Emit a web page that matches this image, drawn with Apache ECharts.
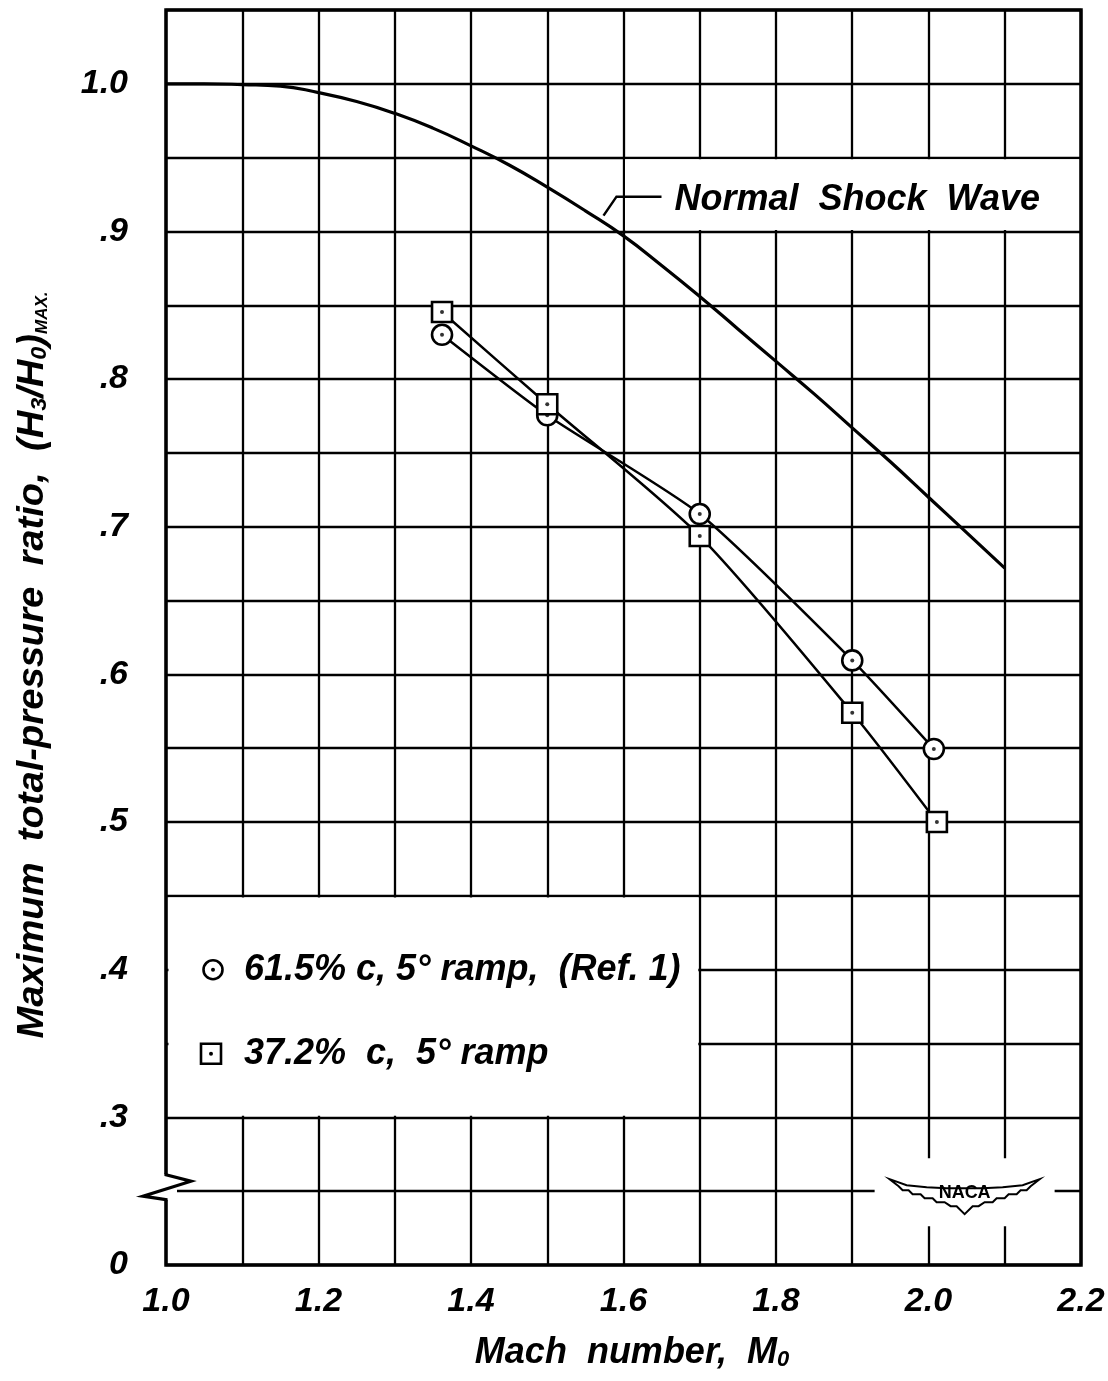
<!DOCTYPE html>
<html><head><meta charset="utf-8">
<script src="https://cdn.jsdelivr.net/npm/echarts/dist/echarts.min.js"></script>
<style>html,body{margin:0;padding:0;background:#fff}#c{width:1108px;height:1381px}</style>
</head><body><div id="c"></div>
<script>
// ---- data ----
const shockMach  = [1.0, 1.05, 1.1, 1.15, 1.2, 1.25, 1.3, 1.35, 1.4, 1.45, 1.5, 1.55, 1.6, 1.65, 1.7, 1.75, 1.8, 1.85, 1.9, 1.95, 2.0, 2.05, 2.1];
const shockRatio = [1.000, 1.000, 0.9995, 0.9985, 0.994, 0.988, 0.980, 0.970, 0.958, 0.945, 0.930, 0.914, 0.897, 0.877, 0.856, 0.834, 0.812, 0.790, 0.767, 0.744, 0.720, 0.696, 0.672];
const mach615  = [1.362, 1.500, 1.700, 1.900, 2.007];
const ratio615 = [0.830, 0.7755, 0.7086, 0.6095, 0.5495];
const mach372  = [1.362, 1.500, 1.700, 1.900, 2.011];
const ratio372 = [0.8455, 0.783, 0.6937, 0.574, 0.500];
const legend615 = '61.5% c, 5° ramp,  (Ref. 1)';
const legend372 = '37.2%  c,  5° ramp';
const shockLabel = 'Normal  Shock  Wave';

const FONT = '"Liberation Sans", Arial, sans-serif';
const pairs = (xs, ys) => xs.map((x, i) => [x, ys[i]]);
const txt = { fontFamily: FONT, fontStyle: 'italic', fontWeight: 'bold', color: '#000' };

const chart = echarts.init(document.getElementById('c'), null, { renderer: 'canvas' });
const option = {
  animation: false,
  backgroundColor: '#fff',
  grid: { left: 166, right: 27, top: 10, bottom: 116, show: true, borderColor: '#000', borderWidth: 3.5,
          containLabel: false, outerBoundsMode: 'none' },
  xAxis: {
    type: 'value', min: 1.0, max: 2.2, interval: 0.1,
    axisLine: { show: false }, axisTick: { show: false },
    splitLine: { show: true, lineStyle: { color: '#000', width: 2.3 } },
    axisLabel: Object.assign({ fontSize: 34, margin: 20, showMinLabel: true, showMaxLabel: true,
      formatter: v => { const t = Math.round(v * 10); return t % 2 === 0 ? (t / 10).toFixed(1) : ''; } }, txt)
  },
  yAxis: {
    type: 'value', min: 0.2, max: 1.05, interval: 0.05,
    axisLine: { show: false }, axisTick: { show: false },
    splitLine: { show: true, lineStyle: { color: '#000', width: 2.3 } },
    axisLabel: Object.assign({ fontSize: 34, margin: 38,
      formatter: v => { const t = Math.round(v * 100); if (t % 10 !== 0) return ''; if (t === 20) return '0'; if (t === 100) return '1.0'; return '.' + (t / 10); } }, txt)
  },
  series: [
    { type: 'line', name: 'Normal Shock Wave', data: pairs(shockMach, shockRatio), smooth: 0.5, showSymbol: false,
      lineStyle: { color: '#000', width: 3.2 }, z: 2, silent: true },
    { type: 'line', name: '61.5% c', data: pairs(mach615, ratio615), smooth: 0.2, symbol: 'circle', symbolSize: 20,
      itemStyle: { color: '#fff', borderColor: '#000', borderWidth: 2.6 }, lineStyle: { color: '#000', width: 2.5 }, z: 3, silent: true },
    { type: 'line', name: '37.2% c', data: pairs(mach372, ratio372), smooth: 0.25, symbol: 'rect', symbolSize: 20,
      itemStyle: { color: '#fff', borderColor: '#000', borderWidth: 2.6 }, lineStyle: { color: '#000', width: 2.5 }, z: 3, silent: true },
    { type: 'scatter', data: pairs(mach615, ratio615), symbolSize: 4, itemStyle: { color: '#000' }, z: 5, silent: true },
    { type: 'scatter', data: pairs(mach372, ratio372), symbolSize: 4, itemStyle: { color: '#000' }, z: 5, silent: true }
  ]
};
chart.setOption(option);

const P = (x, y) => chart.convertToPixel({ gridIndex: 0 }, [x, y]);
const g = [];
const white = { fill: '#fff', stroke: null };
// legend box
const a = P(1.0, 0.45), b = P(1.7, 0.3);
g.push({ type: 'rect', z: 1, shape: { x: a[0] + 2.5, y: a[1] + 1.5, width: b[0] - a[0] - 4, height: b[1] - a[1] - 3 }, style: white });
const L1 = P(1.0, 0.4);
g.push({ type: 'circle', z: 6, shape: { cx: L1[0] + 47, cy: L1[1], r: 9.5 }, style: { fill: '#fff', stroke: '#000', lineWidth: 2.6 } });
g.push({ type: 'circle', z: 7, shape: { cx: L1[0] + 47, cy: L1[1], r: 2 }, style: { fill: '#000' } });
g.push({ type: 'rect', z: 6, shape: { x: L1[0] + 45 - 10, y: L1[1] + 84 - 10, width: 20, height: 20 }, style: { fill: '#fff', stroke: '#000', lineWidth: 2.6 } });
g.push({ type: 'circle', z: 7, shape: { cx: L1[0] + 45, cy: L1[1] + 84, r: 2 }, style: { fill: '#000' } });
const ts = (text, x, y, size, align, sx) => ({ type: 'text', z: 8, x: x, y: y, scaleX: sx || 1,
  style: { text: text, fontFamily: FONT, fontStyle: 'italic', fontWeight: 'bold', fontSize: size, fill: '#000',
           textAlign: align || 'left', textVerticalAlign: 'middle', verticalAlign: 'middle' } });
g.push(ts(legend615, L1[0] + 78, L1[1], 36));
g.push(ts(legend372, L1[0] + 78, L1[1] + 84, 36));
// normal shock label box
const c = P(1.6, 0.95), d = P(2.2, 0.9);
g.push({ type: 'rect', z: 1, shape: { x: c[0] + 1.5, y: c[1] + 1.5, width: d[0] - c[0] - 3.5, height: d[1] - c[1] - 3 }, style: white });
g.push(ts(shockLabel, c[0] + 51, (c[1] + d[1]) / 2 + 6, 36));
g.push({ type: 'polyline', z: 6, shape: { points: [[c[0] - 20, c[1] + 58], [c[0] - 7, c[1] + 39], [c[0] + 38, c[1] + 39]] },
         style: { stroke: '#000', lineWidth: 2.5, fill: null } });
// axis break
const e = P(1.0, 0.25);
g.push({ type: 'rect', z: 4, shape: { x: e[0] - 4, y: e[1] - 17, width: 15, height: 26 }, style: white });
g.push({ type: 'polyline', z: 6, shape: { points: [[e[0], e[1] - 18], [e[0], e[1] - 16.5], [e[0] + 25, e[1] - 10], [e[0] - 23, e[1] + 5], [e[0], e[1] + 8.5], [e[0], e[1] + 10]] },
         style: { stroke: '#000', lineWidth: 3.2, fill: null, lineJoin: 'miter' } });
// NACA logo
const n = P(2.05, 0.25);
const nx = n[0] - 2, ny = n[1] + 3;
g.push({ type: 'rect', z: 1, shape: { x: nx - 90, y: ny - 36, width: 180, height: 68 }, style: white });
const wing = [[-75,-15],[-58,-9],[-38,-7],[-18,-6],[18,-6],[38,-7],[58,-9],[75,-15],
  [66,-8],[62,-4],[56,-4],[52,0],[44,0],[40,4],[32,4],[28,8],[20,8],[14,12],[8,12],[0,20],
  [-8,12],[-14,12],[-20,8],[-28,8],[-32,4],[-40,4],[-44,0],[-52,0],[-56,-4],[-62,-4],[-66,-8]]
  .map(p => [nx + p[0], ny + p[1]]);
g.push({ type: 'polygon', z: 6, shape: { points: wing }, style: { fill: '#fff', stroke: '#000', lineWidth: 2 } });
g.push({ type: 'text', z: 7, x: nx, y: ny - 1, style: { text: 'NACA', fontFamily: FONT, fontWeight: 'bold', fontSize: 18, fill: '#000',
         textAlign: 'center', textVerticalAlign: 'middle', verticalAlign: 'middle' } });
// axis titles
const sub = { fontFamily: FONT, fontStyle: 'italic', fontWeight: 'bold', fontSize: 22, verticalAlign: 'bottom', fill: '#000', padding: [12, 0, 0, 0] };
const main = { fontFamily: FONT, fontStyle: 'italic', fontWeight: 'bold', fontSize: 36, fill: '#000' };
g.push({ type: 'text', z: 8, x: 632, y: 1353, style: { text: '{m|Mach  number,  M}{s|0}', rich: { m: main, s: sub },
         textAlign: 'center', textVerticalAlign: 'middle', verticalAlign: 'middle' } });
g.push({ type: 'text', z: 8, x: 33, y: 665, rotation: Math.PI / 2, scaleX: 1.06,
         style: { text: '{m|Maximum  total-pressure  ratio,  (H}{s|3}{m|/H}{s|0}{m|)}{t|MAX.}',
                  rich: { m: main, s: sub, t: Object.assign({}, sub, { fontSize: 16 }) },
                  textAlign: 'center', textVerticalAlign: 'middle', verticalAlign: 'middle' } });
chart.setOption({ graphic: g });
</script></body></html>
